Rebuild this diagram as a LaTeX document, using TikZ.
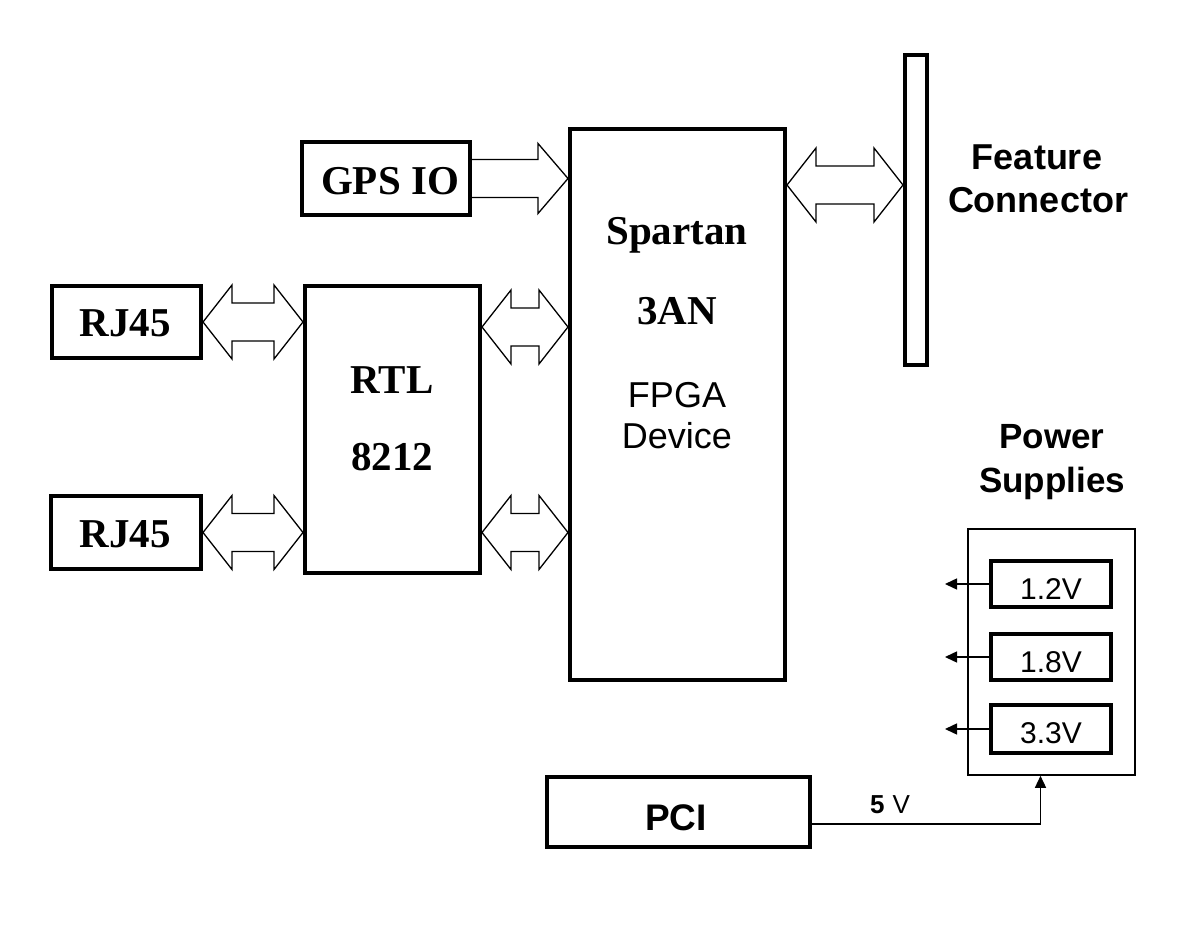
\documentclass[tikz,border=0pt]{standalone}
\usepackage{fontspec}
\newfontfamily\tnr{Liberation Serif}
\newfontfamily\arl{Liberation Sans}
\usetikzlibrary{calc,arrows.meta}
\tikzset{
  thickbox/.style={draw=black,line width=4pt,fill=white,inner sep=0pt},
  thinbox/.style={draw=black,line width=1.6pt,inner sep=0pt},
  barrow/.style={draw=black,line width=1.3pt,fill=white,line join=miter},
  lbl/.style={anchor=base,inner sep=0pt},
  serifb/.style={font=\tnr\bfseries\fontsize{41}{43}\selectfont},
  sansb/.style={font=\arl\bfseries\fontsize{36}{38}\selectfont},
  sansr/.style={font=\arl\fontsize{36}{38}\selectfont},
  volt/.style={font=\arl\fontsize{30}{32}\selectfont},
  smallarrow/.style={draw=black,line width=1.5pt,-{Triangle[length=12pt,width=11pt]}},
}
\newcommand\dblarr[2]{%
  \draw[barrow] (#1) -- ($(#1)+(29,-37)$) -- ($(#1)+(29,-19)$) -- ($(#2)+(-29,-19)$)
    -- ($(#2)+(-29,-37)$) -- (#2) -- ($(#2)+(-29,37)$) -- ($(#2)+(-29,19)$)
    -- ($(#1)+(29,19)$) -- ($(#1)+(29,37)$) -- cycle;}
\newcommand\sglarr[2]{%
  \draw[barrow] ($(#1)+(0,-19)$) -- ($(#2)+(-30,-19)$) -- ($(#2)+(-30,-35)$) -- (#2)
    -- ($(#2)+(-30,35)$) -- ($(#2)+(-30,19)$) -- ($(#1)+(0,19)$);}
\begin{document}
\begin{tikzpicture}[x=1pt,y=-1pt]
\useasboundingbox[fill=white] (0,0) rectangle (1187,944);
% boxes
\node[thickbox,minimum width=168pt,minimum height=73pt] (gps) at (386,178.5) {};
\node[thickbox,minimum width=149pt,minimum height=72pt] (rj1) at (126.5,322) {};
\node[thickbox,minimum width=150pt,minimum height=73pt] (rj2) at (126,532.5) {};
\node[thickbox,minimum width=175pt,minimum height=287pt] (rtl) at (392.5,429.5) {};
\node[thickbox,minimum width=215pt,minimum height=551pt] (fpga) at (677.5,404.5) {};
\node[thickbox,minimum width=22pt,minimum height=310pt] (conn) at (916,210) {};
\node[thinbox,minimum width=167pt,minimum height=246pt] (ps) at (1051.5,652) {};
\node[thickbox,minimum width=120pt,minimum height=46pt] (v12) at (1051,584) {};
\node[thickbox,minimum width=120pt,minimum height=46pt] (v18) at (1051,657) {};
\node[thickbox,minimum width=120pt,minimum height=48pt] (v33) at (1051,729) {};
\node[thickbox,minimum width=263pt,minimum height=70pt] (pci) at (678.5,812) {};
% texts
\node[lbl,serifb] (tgps) at (390,195) {GPS IO};
\node[lbl,serifb] (trj1) at (125,337) {RJ45};
\node[lbl,serifb] (trj2) at (125,547) {RJ45};
\node[lbl,serifb] (trtl) at (392,393) {RTL};
\node[lbl,serifb] (t8212) at (392,470) {8212};
\node[lbl,serifb] (tspa) at (677,245) {Spartan};
\node[lbl,serifb] (t3an) at (677,324) {3AN};
\node[lbl,sansr] (tfpga) at (677,407) {FPGA};
\node[lbl,sansr] (tdev) at (677,448) {Device};
\node[lbl,sansb] (tfeat) at (1037,170) {Feature};
\node[lbl,sansb] (tconn) at (1038,213) {Connector};
\node[lbl,font=\arl\bfseries\fontsize{35}{37}\selectfont] (tpow) at (1052,448) {Power};
\node[lbl,font=\arl\bfseries\fontsize{35}{37}\selectfont] (tsup) at (1052,492) {Supplies};
\node[lbl,volt] (t12) at (1051,599) {1.2V};
\node[lbl,volt] (t18) at (1051,672) {1.8V};
\node[lbl,volt] (t33) at (1051,743) {3.3V};
\node[lbl,font=\arl\bfseries\fontsize{37}{39}\selectfont] (tpci) at (676,830) {PCI};
\node[lbl,font=\arl\fontsize{26}{28}\selectfont] (t5v) at (890,813) {{\bfseries 5}\hspace{8pt}V};
% block arrows
\sglarr{gps.east}{fpga.west |- gps.east}
\dblarr{rj1.east}{rtl.west |- rj1.east}
\dblarr{rj2.east}{rtl.west |- rj2.east}
\dblarr{$(rtl.east |- rj1.east)+(0,5)$}{$(fpga.west |- rj1.east)+(0,5)$}
\dblarr{rtl.east |- rj2.east}{fpga.west |- rj2.east}
\dblarr{$(fpga.north east)+(0,58)$}{$(conn.west |- fpga.north east)+(0,58)$}
% power arrows
\coordinate (o12) at (945,584);
\coordinate (o18) at (945,657);
\coordinate (o33) at (945,729);
\draw[smallarrow] (v12.west) -- (o12);
\draw[smallarrow] (v18.west) -- (o18);
\draw[smallarrow] (v33.west) -- (o33);
\draw[smallarrow] ($(pci.east)+(0,12)$) -| ($(ps.south)+(-11,0)$);
\end{tikzpicture}
\end{document}
